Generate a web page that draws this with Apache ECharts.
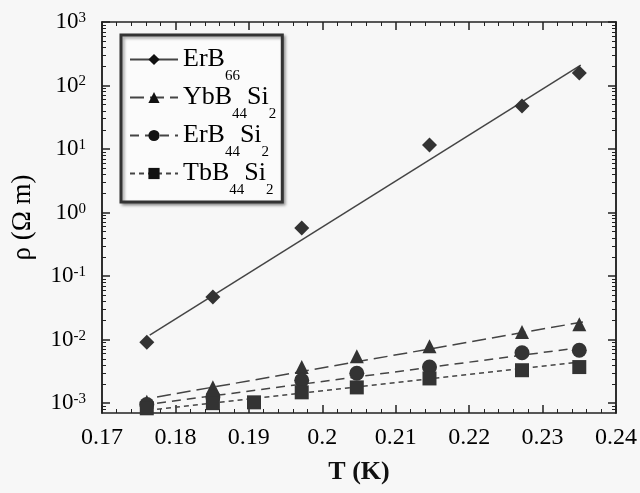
<!DOCTYPE html>
<html>
<head>
<meta charset="utf-8">
<script src="https://cdn.jsdelivr.net/npm/echarts@6/dist/echarts.min.js"></script>
<style>
  html, body { margin: 0; padding: 0; background: #f7f7f7; }
  #chart { width: 640px; height: 493px; }
</style>
</head>
<body>
<div id="chart"></div>
<script>
const erb66T = [0.1761, 0.1851, 0.1972, 0.2146, 0.2272, 0.2350];
const erb66 = [0.0091, 0.047, 0.57, 11.6, 47.5, 157];

const ybT = [0.1761, 0.1851, 0.1972, 0.2047, 0.2146, 0.2272, 0.2350];
const yb = [0.00105, 0.00178, 0.0037, 0.0055, 0.0079, 0.0132, 0.0175];

const erT = [0.1761, 0.1851, 0.1972, 0.2047, 0.2146, 0.2272, 0.2350];
const er = [0.00095, 0.00125, 0.0023, 0.00295, 0.0037, 0.0062, 0.0068];

const tbT = [0.1761, 0.1851, 0.1907, 0.1972, 0.2047, 0.2146, 0.2272, 0.2350];
const tb = [0.00083, 0.00100, 0.00103, 0.00148, 0.00177, 0.00245, 0.0033, 0.0037];

// fitted lines (end points)
const fit66T = [0.1765, 0.2352];
const fit66 = [0.0118, 209];
const fitT = [0.1775, 0.2355];
const ybFit = [0.00125, 0.019];
const erFit = [0.00100, 0.0076];
const tbFit = [0.00080, 0.0045];

const names = ['ErB66', 'YbB44Si2', 'ErB44Si2', 'TbB44Si2'];
const legendText = {
  ErB66: '{m|ErB}{s|66}',
  YbB44Si2: '{m|YbB}{s|44}{m|Si}{s|2}',
  ErB44Si2: '{m|ErB}{s|44}{m|Si}{s|2}',
  TbB44Si2: '{m|TbB}{s|44}{m|Si}{s|2}'
};

const yMajor = [1e-3, 1e-2, 1e-1, 1, 10, 100, 1000];
const yMinor = [];
yMajor.forEach(d => {
  if (d < 1000) for (let k = 2; k <= 9; k++) yMinor.push(+(d * k).toPrecision(3));
});
yMinor.push(0.0008, 0.0009);

const pair = (xs, ys) => xs.map((x, i) => [x, ys[i]]);

const font = 'Liberation Serif';
const ink = '#222';

const chart = echarts.init(document.getElementById('chart'));

const fitSeries = (name, xs, ys, sym, size, dash) => ({
  name: name,
  type: 'line',
  data: pair(xs, ys),
  symbol: sym,
  symbolSize: size,
  showSymbol: false,
  itemStyle: { color: '#111' },
  lineStyle: { color: '#444', width: 1.5, type: dash },
  silent: true,
  z: 2
});

const dotSeries = (name, xs, ys, sym, size) => ({
  name: name,
  type: 'scatter',
  data: pair(xs, ys),
  symbol: sym,
  symbolSize: size,
  itemStyle: { color: '#333', opacity: 1 },
  z: 3
});

const baseX = {
  type: 'value',
  min: 0.17,
  max: 0.24,
  interval: 0.01,
  splitLine: { show: false },
  axisLine: { onZero: false, lineStyle: { color: ink, width: 1.5 } },
  axisTick: { inside: true, length: 8, lineStyle: { color: ink, width: 1.5 } },
  minorTick: { show: true, splitNumber: 5, length: 4, lineStyle: { color: ink } }
};

const baseY = {
  type: 'log',
  logBase: 10,
  min: 0.0007,
  max: 1000,
  splitLine: { show: false },
  minorSplitLine: { show: false },
  axisLine: { onZero: false, lineStyle: { color: ink, width: 1.5 } }
};

chart.setOption({
  backgroundColor: '#f7f7f7',
  animation: false,
  grid: { left: 102, right: 23, top: 22, bottom: 80 },
  legend: {
    orient: 'vertical',
    left: 121,
    top: 35,
    data: names,
    itemWidth: 48,
    itemHeight: 14,
    itemGap: -11,
    padding: [0, 6, 4, 8],
    backgroundColor: '#fbfbfb',
    borderColor: '#333',
    borderWidth: 3,
    shadowColor: 'rgba(0,0,0,0.35)',
    shadowOffsetX: 2,
    shadowOffsetY: 2,
    shadowBlur: 3,
    formatter: n => legendText[n],
    textStyle: {
      fontFamily: font,
      color: '#000',
      rich: {
        m: { fontFamily: font, fontSize: 26, color: '#000', verticalAlign: 'middle', lineHeight: 26 },
        s: { fontFamily: font, fontSize: 15, color: '#000', verticalAlign: 'middle', lineHeight: 15, padding: [34, 0, 0, 0] }
      }
    }
  },
  xAxis: [
    Object.assign({}, baseX, {
      position: 'bottom',
      name: 'T (K)',
      nameLocation: 'middle',
      nameGap: 46,
      nameTextStyle: { fontFamily: font, fontSize: 26, fontWeight: 'bold', color: '#111' },
      axisLabel: {
        margin: 13,
        fontFamily: font,
        fontSize: 24,
        color: '#000',
        formatter: v => (Math.round(v * 100) / 100).toString()
      }
    }),
    Object.assign({}, baseX, {
      position: 'top',
      axisLabel: { show: false }
    })
  ],
  yAxis: [
    Object.assign({}, baseY, {
      position: 'left',
      name: 'ρ (Ω m)',
      nameLocation: 'middle',
      nameGap: 66,
      nameTextStyle: { fontFamily: font, fontSize: 27, color: '#000' },
      axisTick: { inside: true, length: 8, customValues: yMajor, lineStyle: { color: ink, width: 1.5 } },
      axisLabel: {
        customValues: yMajor,
        margin: 16,
        formatter: v => '{b|10}{p|' + Math.round(Math.log10(v)) + '}',
        rich: {
          b: { fontFamily: font, fontSize: 23, color: '#000', verticalAlign: 'bottom', lineHeight: 23, padding: [8, 0, 0, 0] },
          p: { fontFamily: font, fontSize: 15, color: '#000', verticalAlign: 'top', lineHeight: 15 }
        }
      }
    }),
    Object.assign({}, baseY, {
      position: 'left',
      axisLabel: { show: false },
      axisTick: { inside: true, length: 4, customValues: yMinor, lineStyle: { color: ink } }
    }),
    Object.assign({}, baseY, {
      position: 'right',
      axisLabel: { show: false },
      axisTick: { inside: true, length: 8, customValues: yMajor, lineStyle: { color: ink, width: 1.5 } }
    }),
    Object.assign({}, baseY, {
      position: 'right',
      axisLabel: { show: false },
      axisTick: { inside: true, length: 4, customValues: yMinor, lineStyle: { color: ink } }
    })
  ],
  series: [
    fitSeries('ErB66', fit66T, fit66, 'diamond', 14, 'solid'),
    fitSeries('YbB44Si2', fitT, ybFit, 'triangle', 12, [14, 6]),
    fitSeries('ErB44Si2', fitT, erFit, 'circle', 14, [9, 6]),
    fitSeries('TbB44Si2', fitT, tbFit, 'rect', 14, [5, 4]),
    dotSeries('ErB66', erb66T, erb66, 'diamond', 15),
    dotSeries('YbB44Si2', ybT, yb, 'triangle', 14),
    dotSeries('ErB44Si2', erT, er, 'circle', 15),
    dotSeries('TbB44Si2', tbT, tb, 'rect', 14)
  ]
});
</script>
</body>
</html>
